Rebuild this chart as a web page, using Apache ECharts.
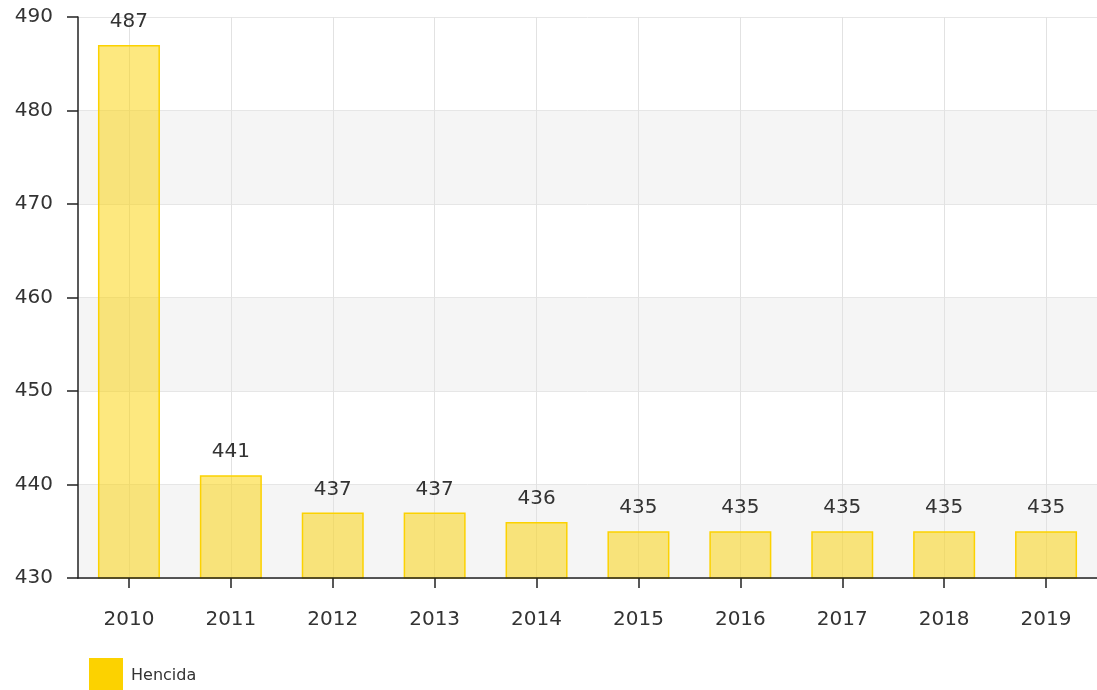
<!DOCTYPE html>
<html>
<head>
<meta charset="utf-8">
<script src="https://cdn.jsdelivr.net/npm/echarts@6/dist/echarts.min.js"></script>
<style>
  html, body { margin: 0; padding: 0; background: #fff; }
  #chart { width: 1097px; height: 690px; }
</style>
</head>
<body>
<div id="chart"></div>
<script>
const years = ['2010', '2011', '2012', '2013', '2014', '2015', '2016', '2017', '2018', '2019'];
const hencida = [487, 441, 437, 437, 436, 435, 435, 435, 435, 435];
const yTicks = { min: 430, max: 490, interval: 10 };

// half-category slots, used only to put the vertical grid lines at bar centres
const halfSlots = years.flatMap(y => [y + 'a', y + 'b']);

const chart = echarts.init(document.getElementById('chart'));
const font = 'DejaVu Sans, Verdana, sans-serif';

chart.setOption({
  animation: false,
  textStyle: { fontFamily: font },
  grid: { left: 78, top: 17, width: 1020, height: 561, containLabel: false },
  legend: {
    left: 84,
    top: 653,
    itemWidth: 34,
    itemHeight: 36,
    icon: 'rect',
    textStyle: { fontSize: 16, color: '#333', fontFamily: font, padding: [3, 0, 0, 3] },
    data: [{ name: 'Hencida', itemStyle: { color: '#fcd200', borderWidth: 0 } }]
  },
  xAxis: [{
    type: 'category',
    data: years,
    boundaryGap: true,
    axisLine: { show: true, lineStyle: { color: '#222', width: 1.5 } },
    axisTick: { show: true, alignWithLabel: true, length: 10, lineStyle: { color: '#222', width: 1.5 } },
    axisLabel: { fontSize: 20, color: '#333', margin: 32, fontFamily: font },
    splitLine: { show: false },
    z: 5
  }, {
    type: 'category',
    data: halfSlots,
    position: 'bottom',
    boundaryGap: true,
    axisLine: { show: false },
    axisTick: { show: false },
    axisLabel: { show: false },
    splitLine: {
      show: true,
      interval: (index) => index % 2 === 1,
      lineStyle: { color: '#e2e2e2' }
    }
  }],
  yAxis: {
    type: 'value',
    min: yTicks.min,
    max: yTicks.max,
    interval: yTicks.interval,
    axisLine: { show: true, lineStyle: { color: '#222', width: 1.5 } },
    axisTick: { show: true, length: 11, lineStyle: { color: '#222', width: 1.5 } },
    axisLabel: { fontSize: 20, color: '#333', margin: 25, fontFamily: font },
    splitLine: { show: true, lineStyle: { color: '#e6e6e6' } },
    splitArea: { show: true, areaStyle: { color: ['#f5f5f5', 'rgba(255,255,255,0)'] } }
  },
  series: [{
    name: 'Hencida',
    type: 'bar',
    data: hencida,
    barWidth: 62,
    itemStyle: {
      color: 'rgba(252, 210, 0, 0.5)',
      borderColor: '#fcd200',
      borderWidth: 1.5
    },
    label: {
      show: true,
      position: 'top',
      distance: 13,
      fontSize: 20,
      color: '#333',
      fontFamily: font
    }
  }]
});
</script>
</body>
</html>
